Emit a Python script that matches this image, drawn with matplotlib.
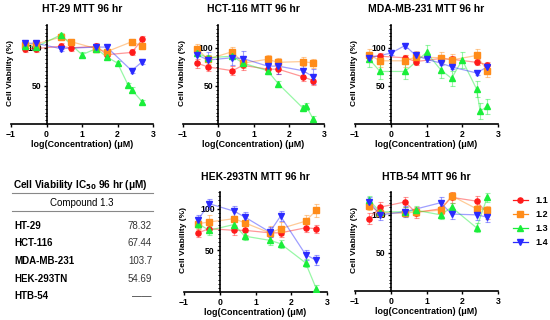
import numpy as np
import matplotlib
matplotlib.use("Agg")
import matplotlib.pyplot as plt
from matplotlib.ticker import MultipleLocator

plt.rcParams['font.family'] = ['Liberation Sans', 'DejaVu Sans']
plt.rcParams['font.weight'] = 'bold'

#-----------------------------------------------------------------------------
# data

x8 = [-0.6, -0.3, 0.4, 0.7, 1.4, 1.7, 2.4, 2.7]

# HT-29
ht29_x13 = [-0.6, -0.3, 0.4, 1.0, 1.4, 1.7, 2.0, 2.3, 2.4, 2.7]
ht29_x14 = [-0.6, -0.3, 0.4, 1.4, 1.7, 2.4, 2.7]
ht29_11 = [99, 99, 102, 100, 102, 91, 94, 111]
ht29_12 = [104, 105, 114, 108, 99, 95, 108, 102]
ht29_13 = [103, 101, 117, 91, 99, 88, 80, 51, 45, 29]
ht29_14 = [106, 106, 99, 101, 101, 70, 82]
ht29_err = [4, 4, 3, 3]

# HCT-116
hct_x13 = [-0.6, -0.3, 0.4, 0.7, 1.4, 1.7, 2.4, 2.5, 2.7]
hct_11 = [80, 75, 70, 77, 72, 72, 62, 57]
hct_12 = [99, 85, 95, 80, 85, 81, 82, 80]
hct_13 = [93, 87, 89, 80, 70, 53, 21, 23, 6]
hct_14 = [91, 84, 87, 86, 76, 76, 70, 62]
hct_err = [6, 6, 4, 10]

# MDA-MB-231
mda_x13 = [-0.6, -0.3, 0.4, 1.0, 1.4, 1.7, 2.0, 2.4, 2.5, 2.7]
mda_x14 = [-0.6, 0.0, 0.4, 0.7, 1.0, 1.4, 1.7, 2.4, 2.7]
mda_11 = [89, 89, 87, 82, 86, 85, 81, 78]
mda_12 = [91, 83, 83, 88, 87, 84, 90, 70]
mda_13 = [85, 69, 69, 94, 71, 60, 84, 46, 17, 23]
mda_14 = [87, 93, 103, 90, 85, 80, 75, 67, 75]
mda_err = [4, 8, 10, 3]

# HEK-293TN
hek_11 = [71, 76, 74, 74, 71, 71, 77, 76]
hek_12 = [82, 84, 88, 83, 71, 76, 85, 98]
hek_13 = [82, 74, 81, 67, 62, 58, 35, 4]
hek_14 = [87, 106, 97, 90, 72, 91, 45, 38]
hek_err = [5, 8, 5, 6]

# HTB-54
htb_x14 = [-0.6, -0.3, 0.4, 1.4, 1.7, 2.4, 2.7]
htb_11 = [95, 110, 117, 103, 108, 123, 118, 102]
htb_12 = [112, 103, 102, 104, 106, 125, 108, 107]
htb_13 = [119, 104, 104, 106, 100, 110, 83, 123]
htb_14 = [117, 100, 104, 116, 101, 100, 97]
htb_err = [7, 5, 6, 7]

series_names = ["1.1", "1.2", "1.3", "1.4"]
colors = ["#ff1a1a", "#ff8c1a", "#1aee3a", "#2a2aff"]
markers = ["o", "s", "^", "v"]

table_rows = ["HT-29", "HCT-116", "MDA-MB-231", "HEK-293TN", "HTB-54"]
table_vals = ["78.32", "67.44", "103.7", "54.69", "\u2014\u2014"]

#-----------------------------------------------------------------------------

fig = plt.figure(figsize=(5.5, 3.2), dpi=100)
W, H = 550.0, 320.0


def make_ax(x_left, x_right, y_bottom, y_top):
    # pixel box -> figure fraction
    return fig.add_axes([x_left / W, 1 - y_bottom / H,
                         (x_right - x_left) / W, (y_bottom - y_top) / H])


def panel(ax, title, xs, ys, errs, ymax):
    for i in range(4):
        c = colors[i]
        e = [errs[i]] * len(ys[i])
        ax.errorbar(xs[i], ys[i], yerr=e, color=c, alpha=0.45, lw=0.9,
                    capsize=1.8, capthick=0.8, elinewidth=0.8, zorder=2)
        ax.plot(xs[i], ys[i], ls="none", marker=markers[i], color=c,
                ms=3.7, zorder=3, label=series_names[i])
    ax.set_xlim(-1, 3)
    ax.set_ylim(0, ymax)
    ax.spines['top'].set_visible(False)
    ax.spines['right'].set_visible(False)
    ax.spines['left'].set_position(('data', 0))
    ax.spines['left'].set_linewidth(1.2)
    ax.spines['bottom'].set_linewidth(1.2)
    ax.set_xticks([-1, 0, 1, 2, 3])
    ax.set_yticks([50, 100])
    ax.yaxis.set_minor_locator(MultipleLocator(5))
    ax.tick_params(axis='both', labelsize=6.2, length=2.5, width=1, pad=1)
    ax.tick_params(axis='x', pad=1.5)
    ax.tick_params(axis='y', which='minor', length=1.5, width=0.7)
    for lab in ax.get_xticklabels() + ax.get_yticklabels():
        lab.set_fontweight('bold')
    ax.set_title(title, fontsize=7.5, fontweight='bold', pad=9)
    ax.set_xlabel("log(Concentration) (\u03bcM)", fontsize=6.4,
                  fontweight='bold', labelpad=1)
    ax.set_ylabel("Cell Viability (%)", fontsize=6, fontweight='bold')
    ax.yaxis.set_label_coords(0.02, 0.52)
    ax.patch.set_alpha(0)


ax1 = make_ax(11, 153, 124, 25)
panel(ax1, "HT-29 MTT 96 hr",
      [x8, x8, ht29_x13, ht29_x14], [ht29_11, ht29_12, ht29_13, ht29_14],
      ht29_err, 130)

ax2 = make_ax(183, 324, 124, 25)
panel(ax2, "HCT-116 MTT 96 hr",
      [x8, x8, hct_x13, x8], [hct_11, hct_12, hct_13, hct_14], hct_err, 130)

ax3 = make_ax(355, 498, 124, 25)
panel(ax3, "MDA-MB-231 MTT 96 hr",
      [x8, x8, mda_x13, mda_x14], [mda_11, mda_12, mda_13, mda_14],
      mda_err, 130)

ax4 = make_ax(184, 327, 292, 192)
panel(ax4, "HEK-293TN MTT 96 hr",
      [x8, x8, x8, x8], [hek_11, hek_12, hek_13, hek_14], hek_err, 120)

ax5 = make_ax(355, 498, 291, 192)
panel(ax5, "HTB-54 MTT 96 hr",
      [x8, x8, x8, htb_x14], [htb_11, htb_12, htb_13, htb_14], htb_err, 130)

# legend
handles = []
for i in range(4):
    h, = ax5.plot([], [], color=colors[i], marker=markers[i], ms=3.7, lw=0.9)
    handles.append(h)
leg = fig.legend(handles, series_names, loc='upper left',
                 bbox_to_anchor=(505 / W, 1 - 188 / H), frameon=False,
                 fontsize=6.5, handlelength=1.6, labelspacing=0.55,
                 handletextpad=0.9)
for t in leg.get_texts():
    t.set_fontweight('bold')

#-----------------------------------------------------------------------------
# IC50 table

fx = lambda px: px / W
fy = lambda py: 1 - py / H

fig.text(fx(80), fy(185), "Cell Viability IC$_{50}$ 96 hr (\u03bcM)",
         ha='center', va='center', fontsize=7.2, fontweight='bold')
fig.add_artist(plt.Line2D([fx(12), fx(153)], [fy(193), fy(193)],
                          color='#888888', lw=0.8))
fig.text(fx(82), fy(203), "Compound 1.3", ha='center', va='center',
         fontsize=7, fontweight='normal')
fig.add_artist(plt.Line2D([fx(12), fx(153)], [fy(211), fy(211)],
                          color='#888888', lw=0.8))
for i, (name, val) in enumerate(zip(table_rows, table_vals)):
    yy = 226 + i * 17.5
    fig.text(fx(14), fy(yy), name, ha='left', va='center',
             fontsize=7, fontweight='bold')
    fig.text(fx(152), fy(yy), val, ha='right', va='center',
             fontsize=7, fontweight='normal', color='#333333')

fig.savefig("out.png", dpi=100)
